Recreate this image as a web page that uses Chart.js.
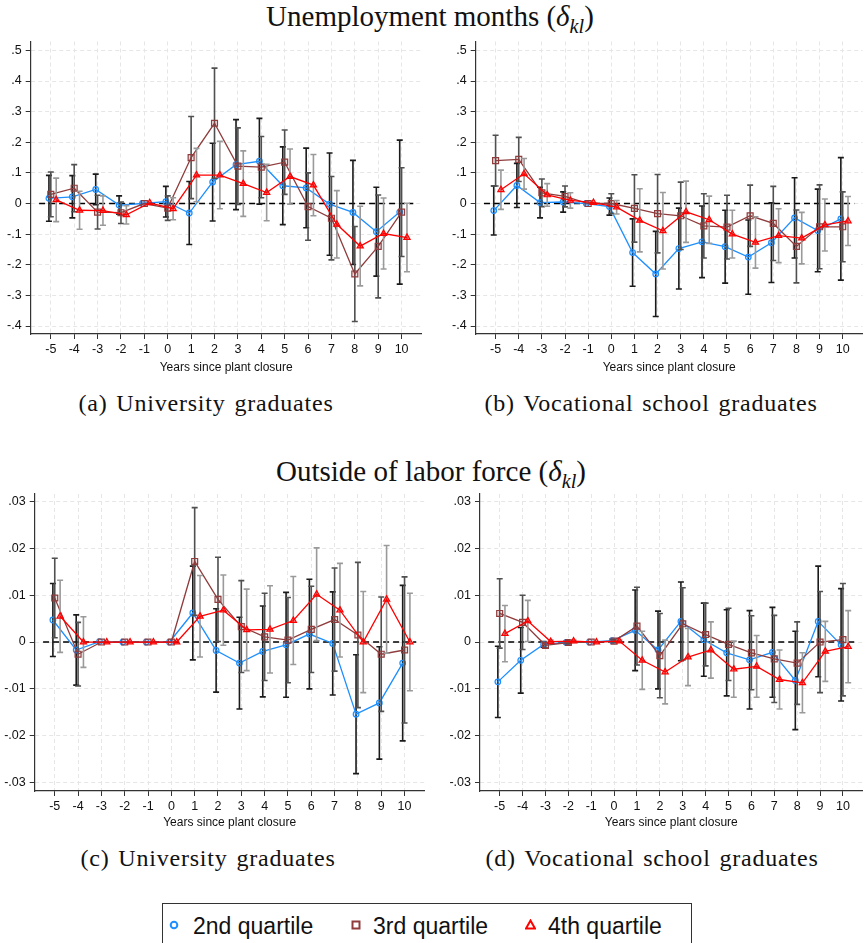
<!DOCTYPE html>
<html>
<head>
<meta charset="utf-8">
<script src="https://cdn.jsdelivr.net/npm/chart.js@4.4.0/dist/chart.umd.min.js"></script>
<style>
  body { margin: 0; background: #fff; }
  #page { position: relative; width: 868px; height: 943px; overflow: hidden; }
  canvas { position: absolute; }
  .serif { position: absolute; font-family: "Liberation Serif", "Times New Roman", serif; color: #111;
           white-space: nowrap; line-height: 1; transform: translateX(-50%); }
  .title { font-size: 29px; }
  .caption { font-size: 24px; letter-spacing: 0.8px; word-spacing: 2px; }
  #legend { position: absolute; left: 162px; top: 903px; width: 530px; height: 60px;
            border: 1px solid #333; box-sizing: border-box; }
  .lab { position: absolute; top: 11px; font: 23px "Liberation Sans", Arial, sans-serif; color: #111; line-height: 1; }
  .mk { position: absolute; }
</style>
</head>
<body>
<div id="page">
  <div class="serif title" style="left:430px; top:2.4px">Unemployment months (<i>δ</i><sub style="font-size:0.7em"><i>kl</i></sub>)</div>
  <canvas id="panelA" width="430" height="350" style="left:0; top:30px"></canvas>
  <canvas id="panelB" width="438" height="350" style="left:430px; top:30px"></canvas>
  <div class="serif caption" style="left:206px; top:390.9px">(a) University graduates</div>
  <div class="serif caption" style="left:651px; top:390.9px">(b) Vocational school graduates</div>

  <div class="serif title" style="left:431px; top:457.4px">Outside of labor force (<i>δ</i><sub style="font-size:0.7em"><i>kl</i></sub>)</div>
  <canvas id="panelC" width="430" height="350" style="left:0; top:480px"></canvas>
  <canvas id="panelD" width="438" height="350" style="left:430px; top:480px"></canvas>
  <div class="serif caption" style="left:208px; top:845.9px">(c) University graduates</div>
  <div class="serif caption" style="left:652px; top:845.9px">(d) Vocational school graduates</div>

  <div id="legend">
    <svg class="mk" style="left:6px; top:16px" width="10" height="10"><circle cx="5" cy="5" r="3.3" fill="none" stroke="#1e8fff" stroke-width="2"/></svg>
    <span class="lab" style="left:30px">2nd quartile</span>
    <svg class="mk" style="left:188px; top:16px" width="10" height="10"><rect x="1.5" y="1.5" width="7" height="7" fill="none" stroke="#903c3c" stroke-width="2"/></svg>
    <span class="lab" style="left:210px">3rd quartile</span>
    <svg class="mk" style="left:362px; top:15px" width="11" height="11"><polygon points="5.5,1.5 10,9.5 1,9.5" fill="none" stroke="#ff0000" stroke-width="2"/></svg>
    <span class="lab" style="left:385px">4th quartile</span>
  </div>
</div>

<script>
// event years relative to the plant closure
const YEARS = [-5, -4, -3, -2, -1, 0, 1, 2, 3, 4, 5, 6, 7, 8, 9, 10];
const QUARTILES = ['2nd quartile', '3rd quartile', '4th quartile'];

const Y_TICKS_UNEMP = [-0.4, -0.3, -0.2, -0.1, 0, 0.1, 0.2, 0.3, 0.4, 0.5];
const Y_TICKS_OLF = [-0.03, -0.02, -0.01, 0, 0.01, 0.02, 0.03];

// (a) unemployment months, university graduates: estimates and CI half-widths
const UNEMP_UNI_Q2 = [0.017, 0.022, 0.046, -0.005, 0, 0.006, -0.031, 0.07, 0.127, 0.138, 0.058, 0.051, -0.002, -0.029, -0.092, -0.028];
const UNEMP_UNI_Q2_CI = [0.075, 0.069, 0.05, 0.03, 0, 0.05, 0.103, 0.127, 0.147, 0.14, 0.127, 0.13, 0.167, 0.17, 0.145, 0.235];
const UNEMP_UNI_Q3 = [0.03, 0.05, -0.028, -0.03, 0, -0.015, 0.15, 0.262, 0.122, 0.119, 0.135, -0.01, -0.048, -0.23, -0.14, -0.028];
const UNEMP_UNI_Q3_CI = [0.073, 0.077, 0.055, 0.035, 0, 0.04, 0.134, 0.18, 0.125, 0.1, 0.105, 0.11, 0.136, 0.155, 0.168, 0.145];
const UNEMP_UNI_Q4 = [0.012, -0.022, -0.023, -0.037, 0.002, -0.017, 0.093, 0.093, 0.065, 0.036, 0.088, 0.06, -0.068, -0.139, -0.098, -0.111];
const UNEMP_UNI_Q4_CI = [0.071, 0.062, 0.048, 0.03, 0, 0.036, 0.087, 0.11, 0.107, 0.092, 0.09, 0.1, 0.11, 0.13, 0.116, 0.112];

// (b) unemployment months, vocational school graduates
const UNEMP_VOC_Q2 = [-0.023, 0.059, 0.003, 0.005, 0, -0.01, -0.16, -0.23, -0.147, -0.125, -0.141, -0.175, -0.128, -0.047, -0.088, -0.05];
const UNEMP_VOC_Q2_CI = [0.08, 0.072, 0.05, 0.033, 0, 0.028, 0.11, 0.139, 0.132, 0.117, 0.119, 0.121, 0.13, 0.131, 0.135, 0.2];
const UNEMP_VOC_Q3 = [0.14, 0.144, 0.035, 0.023, 0, 0, -0.016, -0.033, -0.04, -0.073, -0.077, -0.04, -0.065, -0.14, -0.076, -0.076];
const UNEMP_VOC_Q3_CI = [0.083, 0.072, 0.045, 0.034, 0, 0.032, 0.11, 0.128, 0.11, 0.105, 0.104, 0.1, 0.121, 0.119, 0.137, 0.114];
const UNEMP_VOC_Q4 = [0.045, 0.097, 0.028, 0.01, 0.003, -0.012, -0.055, -0.089, -0.027, -0.053, -0.1, -0.127, -0.105, -0.113, -0.07, -0.057];
const UNEMP_VOC_Q4_CI = [0.064, 0.05, 0.037, 0.025, 0, 0.022, 0.103, 0.125, 0.1, 0.077, 0.078, 0.084, 0.088, 0.084, 0.085, 0.08];

// (c) outside of labor force, university graduates
const OLF_UNI_Q2 = [0.0047, -0.0017, 0.0001, 0, 0, 0, 0.0062, -0.0018, -0.0045, -0.002, -0.0006, 0.0017, -0.0003, -0.0154, -0.013, -0.0045];
const OLF_UNI_Q2_CI = [0.0078, 0.0075, 0, 0, 0, 0, 0.01, 0.0089, 0.0098, 0.0097, 0.0112, 0.0117, 0.011, 0.0127, 0.012, 0.0166];
const OLF_UNI_Q3 = [0.0094, -0.0026, 0, 0, 0, 0, 0.0172, 0.0091, 0.0033, 0.0011, 0.0004, 0.0027, 0.0048, 0.0015, -0.0026, -0.0017];
const OLF_UNI_Q3_CI = [0.0085, 0.0068, 0, 0, 0, 0, 0.0115, 0.009, 0.0098, 0.0093, 0.0091, 0.0092, 0.011, 0.0155, 0.0122, 0.0156];
const OLF_UNI_Q4 = [0.0055, 0, 0, 0, 0, 0, 0.0055, 0.0068, 0.0026, 0.0027, 0.0046, 0.0102, 0.0068, 0, 0.0091, 0];
const OLF_UNI_Q4_CI = [0.0077, 0.0054, 0, 0, 0, 0, 0.0087, 0.0075, 0.0087, 0.0093, 0.0094, 0.0099, 0.01, 0.0108, 0.0115, 0.0104];

// (d) outside of labor force, vocational school graduates
const OLF_VOC_Q2 = [-0.0085, -0.0039, -0.0005, -0.0001, 0, 0.0003, 0.0025, -0.0017, 0.0044, 0.0005, -0.0023, -0.0038, -0.0022, -0.0082, 0.0044, -0.0006];
const OLF_VOC_Q2_CI = [0.0076, 0.007, 0.0006, 0.0003, 0, 0.0003, 0.0086, 0.0083, 0.0084, 0.0078, 0.0092, 0.0105, 0.0096, 0.0105, 0.0118, 0.012];
const OLF_VOC_Q3 = [0.0061, 0.0042, -0.0007, -0.0001, 0, 0.0002, 0.0034, -0.0029, 0.0039, 0.0016, -0.0005, -0.0023, -0.0036, -0.0045, 0, 0.0005];
const OLF_VOC_Q3_CI = [0.0074, 0.0058, 0.0006, 0.0003, 0, 0.0003, 0.0083, 0.009, 0.0077, 0.0067, 0.0077, 0.0079, 0.0093, 0.0088, 0.0108, 0.012];
const OLF_VOC_Q4 = [0.0018, 0.0045, 0.0001, 0.0002, 0, 0.0002, -0.0039, -0.0064, -0.0032, -0.0017, -0.0058, -0.0052, -0.008, -0.0087, -0.002, -0.001];
const OLF_VOC_Q4_CI = [0.006, 0.0044, 0.0003, 0.0002, 0, 0.0002, 0.0062, 0.0068, 0.0061, 0.006, 0.006, 0.0066, 0.0063, 0.0064, 0.0064, 0.0077];

// the dashed reference line at zero runs between these years
const ZERO_LINE_X = [-5.5, 10.5];

// horizontal shift of each quartile so the bars don't sit on top of each other
const OFFSETS = [-0.08, 0, 0.23];

const STYLES = [
  { color: '#1e8fff', fill: 'rgba(30,143,255,0.15)', point: 'circle', radius: 2.8, ci: '#1a1a1a' },
  { color: '#903c3c', fill: 'rgba(144,60,60,0.15)', point: 'rect', radius: 4.2, ci: '#505050' },
  { color: '#ff0000', fill: 'rgba(255,0,0,0.45)', point: 'triangle', radius: 3.6, ci: '#9a9a9a' },
];

const SANS = '"Liberation Sans", Arial, sans-serif';

// strip the leading zero the way Stata prints the axis: .5, -.1, .03
function fmtTick(v) {
  if (Math.abs(v) < 1e-9) return '0';
  return String(+v.toFixed(3)).replace('0.', '.');
}

// draws the confidence interval of a series right before its line and markers
const ciBars = {
  id: 'ciBars',
  beforeDatasetDraw(chart, args) {
    const ds = chart.data.datasets[args.index];
    if (!ds.ci) return;
    const { ctx, scales: { x, y } } = chart;
    ctx.save();
    ctx.strokeStyle = ds.ciColor;
    ctx.lineWidth = 1.6;
    ds.data.forEach((p, i) => {
      const h = ds.ci[i];
      if (!h) return;
      const px = x.getPixelForValue(p.x);
      const top = y.getPixelForValue(p.y + h);
      const bot = y.getPixelForValue(p.y - h);
      ctx.beginPath();
      ctx.moveTo(px, top); ctx.lineTo(px, bot);
      ctx.moveTo(px - 3, top); ctx.lineTo(px + 3, top);
      ctx.moveTo(px - 3, bot); ctx.lineTo(px + 3, bot);
      ctx.stroke();
    });
    ctx.restore();
  }
};

function drawPanel(id, series, cis, yTicks, yMin, yMax, box) {
  const datasets = series.map((vals, k) => ({
    label: QUARTILES[k],
    data: vals.map((v, i) => ({ x: YEARS[i] + OFFSETS[k], y: v })),
    ci: cis[k],
    ciColor: STYLES[k].ci,
    borderColor: STYLES[k].color,
    borderWidth: 1.3,
    pointStyle: STYLES[k].point,
    pointRadius: STYLES[k].radius,
    pointBorderWidth: 1.2,
    pointBorderColor: STYLES[k].color,
    pointBackgroundColor: STYLES[k].fill,
    order: 2 - k,
  }));
  datasets.push({
    label: 'zero',
    data: ZERO_LINE_X.map(x => ({ x: x, y: 0 })),
    borderColor: '#000',
    borderWidth: 1.4,
    borderDash: [6, 4],
    pointRadius: 0,
    order: 10,
  });

  new Chart(document.getElementById(id), {
    type: 'line',
    data: { datasets },
    plugins: [ciBars],
    options: {
      responsive: false,
      animation: false,
      devicePixelRatio: 1,
      layout: { padding: { left: 0, right: box.right, top: box.top, bottom: 0 } },
      plugins: { legend: { display: false }, tooltip: { enabled: false } },
      scales: {
        x: {
          type: 'linear',
          min: -5.86,
          max: 10.86,
          afterBuildTicks: s => { s.ticks = YEARS.map(v => ({ value: v })); },
          afterFit: s => { s.height = box.xh; },
          grid: { color: '#e6e6e6', lineWidth: 1, tickLength: 5, tickColor: '#333', tickWidth: 1 },
          border: { color: '#333', width: 1.2, dash: [4, 3] },
          ticks: { color: '#111', font: { family: SANS, size: 12.5 }, padding: 3, maxRotation: 0, autoSkip: false },
          title: {
            display: true, text: 'Years since plant closure', color: '#111',
            font: { family: SANS, size: 12 }, padding: { top: 0, bottom: box.tp }
          }
        },
        y: {
          min: yMin,
          max: yMax,
          afterBuildTicks: s => { s.ticks = yTicks.map(v => ({ value: v })); },
          afterFit: s => { s.width = box.yw; },
          grid: { color: '#e6e6e6', lineWidth: 1, tickLength: 5, tickColor: '#333', tickWidth: 1 },
          border: { color: '#333', width: 1.2, dash: [4, 3] },
          ticks: { color: '#111', font: { family: SANS, size: 12.5 }, padding: 4, callback: v => fmtTick(v) }
        }
      }
    }
  });
}

drawPanel('panelA', [UNEMP_UNI_Q2, UNEMP_UNI_Q3, UNEMP_UNI_Q4], [UNEMP_UNI_Q2_CI, UNEMP_UNI_Q3_CI, UNEMP_UNI_Q4_CI],
  Y_TICKS_UNEMP, -0.426, 0.529, { right: 8.3, top: 6.7, yw: 30.7, xh: 46, tp: 4.8 });
drawPanel('panelB', [UNEMP_VOC_Q2, UNEMP_VOC_Q3, UNEMP_VOC_Q4], [UNEMP_VOC_Q2_CI, UNEMP_VOC_Q3_CI, UNEMP_VOC_Q4_CI],
  Y_TICKS_UNEMP, -0.426, 0.529, { right: 1.3, top: 6.7, yw: 45.7, xh: 46, tp: 4.8 });
drawPanel('panelC', [OLF_UNI_Q2, OLF_UNI_Q3, OLF_UNI_Q4], [OLF_UNI_Q2_CI, OLF_UNI_Q3_CI, OLF_UNI_Q4_CI],
  Y_TICKS_OLF, -0.0318, 0.0316, { right: 4, top: 14, yw: 34.7, xh: 39, tp: 0 });
drawPanel('panelD', [OLF_VOC_Q2, OLF_VOC_Q3, OLF_VOC_Q4], [OLF_VOC_Q2_CI, OLF_VOC_Q3_CI, OLF_VOC_Q4_CI],
  Y_TICKS_OLF, -0.0318, 0.0316, { right: 1, top: 14, yw: 50, xh: 39, tp: 0 });
</script>
</body>
</html>
